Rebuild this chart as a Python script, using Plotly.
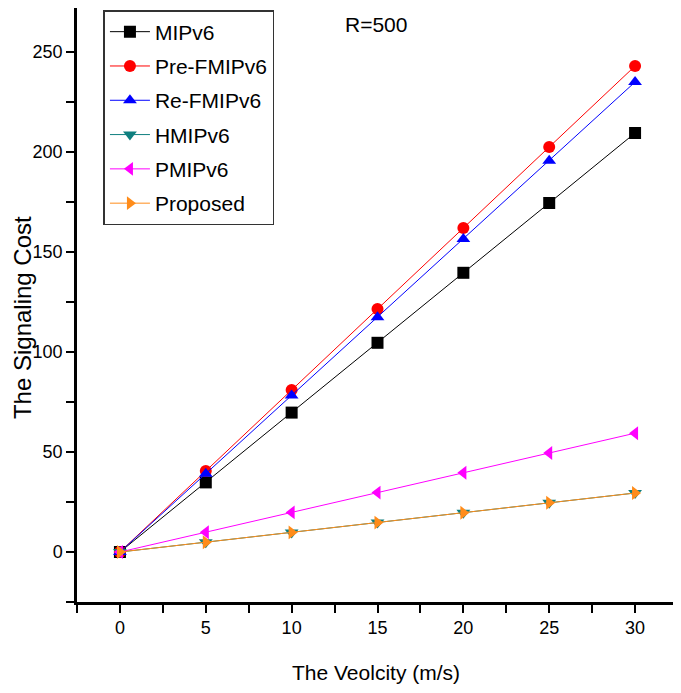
import plotly.graph_objects as go

velocity = [0, 5, 10, 15, 20, 25, 30]
mipv6 = [0, 34.8, 69.7, 104.6, 139.6, 174.5, 209.5]
pre_fmipv6 = [0, 40.5, 81.0, 121.5, 162.0, 202.5, 243.0]
re_fmipv6 = [0, 39.1, 78.2, 117.4, 156.5, 195.6, 235.0]
hmipv6 = [0, 4.9, 9.8, 14.7, 19.6, 24.6, 29.5]
pmipv6 = [0, 9.9, 19.8, 29.7, 39.6, 49.5, 59.4]
proposed = [0, 4.9, 9.8, 14.7, 19.6, 24.6, 29.5]

series = [
    ("MIPv6", mipv6, "black", "square"),
    ("Pre-FMIPv6", pre_fmipv6, "red", "circle"),
    ("Re-FMIPv6", re_fmipv6, "blue", "triangle-up"),
    ("HMIPv6", hmipv6, "#0f7f7f", "triangle-down"),
    ("PMIPv6", pmipv6, "magenta", "triangle-left"),
    ("Proposed", proposed, "#ff8c1a", "triangle-right"),
]

FONT = "Liberation Sans, Arial, sans-serif"

fig = go.Figure()
for i, (name, vals, color, sym) in enumerate(series):
    fig.add_trace(go.Scatter(
        x=velocity, y=vals, name=name, mode="lines+markers",
        line=dict(color=color, width=1),
        marker=dict(symbol=sym, size=12, color=color),
        legendgroup=f"g{i}",
    ))

fig.add_annotation(x=12.97, y=264, text="R=500", showarrow=False,
                   xanchor="left", yanchor="middle",
                   font=dict(size=21, color="black", family=FONT))

fig.add_annotation(x=-0.0915, y=0.478, xref="paper", yref="paper",
                   text="The Signaling Cost", textangle=-90, showarrow=False,
                   xanchor="center", yanchor="middle",
                   font=dict(size=24, color="black", family=FONT))
fig.add_annotation(x=0.498, y=-0.1195, xref="paper", yref="paper",
                   text="The Veolcity (m/s)", showarrow=False,
                   xanchor="center", yanchor="middle",
                   font=dict(size=21, color="black", family=FONT))

fig.update_layout(
    width=673, height=685,
    margin=dict(l=69, r=3, t=0, b=91),
    plot_bgcolor="white", paper_bgcolor="white",
    font=dict(family=FONT, color="black"),
    showlegend=True,
    legend=dict(
        x=0.044, y=0.9966, xanchor="left", yanchor="top",
        bordercolor="#333", borderwidth=1.5, bgcolor="white",
        font=dict(size=21, family=FONT),
        tracegroupgap=4, traceorder="grouped",
        itemwidth=40,
    ),
    xaxis=dict(
        range=[-2.5, 32.5], tickvals=[0, 5, 10, 15, 20, 25, 30],
        showgrid=False, zeroline=False, automargin=False,
        showline=True, linecolor="black", linewidth=2.5,
        ticks="outside", ticklen=8, tickwidth=2, tickcolor="black",
        minor=dict(tickvals=[-2.5, 2.5, 7.5, 12.5, 17.5, 22.5, 27.5, 32.5],
                   ticks="outside", ticklen=8, tickwidth=2, tickcolor="black"),
        tickfont=dict(size=18),
    ),
    yaxis=dict(
        range=[-25, 272], tickvals=[0, 50, 100, 150, 200, 250],
        showgrid=False, zeroline=False, automargin=False,
        showline=True, linecolor="black", linewidth=2.5,
        ticks="outside", ticklen=8, tickwidth=2, tickcolor="black",
        minor=dict(tickvals=[-25, 25, 75, 125, 175, 225],
                   ticks="outside", ticklen=8, tickwidth=2, tickcolor="black"),
        tickfont=dict(size=18),
    ),
)

fig.write_html("out.html")
